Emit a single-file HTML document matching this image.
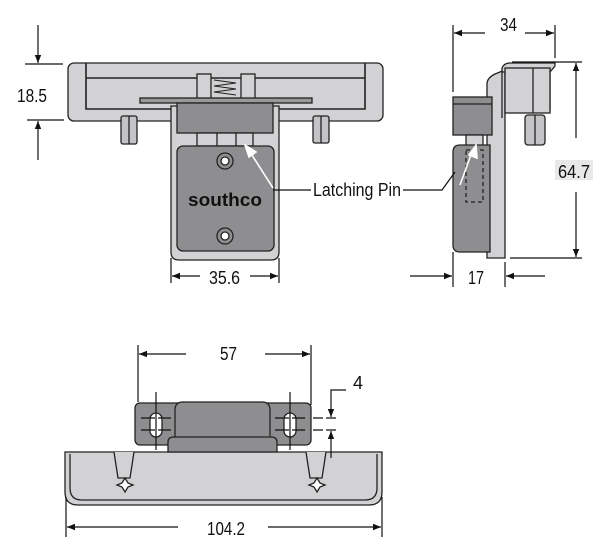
<!DOCTYPE html>
<html><head><meta charset="utf-8"><style>
html,body{margin:0;padding:0;background:#fff;width:600px;height:552px;overflow:hidden}
svg{display:block}
text{font-family:"Liberation Sans",sans-serif;font-size:18px;fill:#111}
</style></head><body>
<svg width="600" height="552" viewBox="0 0 600 552" xmlns="http://www.w3.org/2000/svg">
<defs>
<marker id="a" viewBox="0 0 10 10" refX="10" refY="5" markerWidth="12" markerHeight="8" orient="auto-start-reverse" markerUnits="userSpaceOnUse"><path d="M0,1 L10,5 L0,9 z" fill="#111"/></marker>
</defs>
<g stroke="#222" stroke-width="1.3">
<rect x="68" y="63" width="315" height="58" rx="6" fill="#d2d2d4"/>
<path d="M86 63 V109 H365 V63 M86 78 H365" fill="none" stroke-width="1.6"/>
<rect x="197" y="74" width="14" height="26" fill="#d2d2d4"/>
<rect x="241" y="74" width="14" height="26" fill="#d2d2d4"/>
<path d="M214 80 l22 3 l-22 3 l22 3 l-22 3 l22 3" fill="none" stroke-width="1"/>
<rect x="140" y="98" width="172" height="5" fill="#9a9a9c"/>
<rect x="121" y="116" width="16" height="28" rx="2" fill="#c4c4c6"/>
<line x1="129" y1="116" x2="129" y2="144"/>
<rect x="313" y="116" width="16" height="27" rx="2" fill="#c4c4c6"/>
<line x1="321" y1="116" x2="321" y2="143"/>
<path d="M171 106 V252 q0 8 8 8 H271 q8 0 8-8 V106 Z" fill="#d2d2d4"/>
<rect x="177" y="103" width="96" height="30" fill="#8e8e90"/>
<rect x="197" y="133" width="56" height="13" fill="#d2d2d4"/>
<line x1="217" y1="133" x2="217" y2="146"/><line x1="236" y1="133" x2="236" y2="146"/>
<rect x="177" y="146" width="97" height="105" rx="6" fill="#8e8e90"/>
<circle cx="225" cy="161" r="8" fill="#8e8e90"/><circle cx="225" cy="161" r="4" fill="#fff"/>
<circle cx="225" cy="236" r="8" fill="#8e8e90"/><circle cx="225" cy="236" r="4" fill="#fff"/>
<path d="M487 84 q0-6 8-10 L505 70 V258 H487 Z" fill="#d2d2d4"/>
<path d="M502 118 V68 q2-5 8-5 H555 V66 L550 72 V110 H545 L545 72 H502" fill="#d2d2d4"/>
<rect x="505" y="68" width="45" height="45" fill="#d2d2d4"/>
<line x1="533" y1="68" x2="533" y2="113"/>
<rect x="525" y="115" width="20" height="30" rx="3" fill="#c4c4c6"/>
<line x1="535" y1="115" x2="535" y2="145"/>
<rect x="453" y="97" width="39" height="38" fill="#8e8e90"/>
<line x1="453" y1="104" x2="492" y2="104"/>
<rect x="466" y="135" width="17" height="11" fill="#d2d2d4"/>
<path d="M453 152 q0-7 7-7 H490 V252 H460 q-7 0-7-7 Z" fill="#8e8e90"/>
<rect x="466" y="150" width="17" height="52" fill="none" stroke-dasharray="4,3"/>
<path d="M65 452 H382 V492 q0 13-13 13 H78 q-13 0-13-13 Z" fill="#d2d2d4"/>
<path d="M70 454 V488 q0 12 12 12 H365 q12 0 12-12 V454" fill="none"/>
<path d="M114 452 L118 478 L130 478 L134 452 M306 452 L310 478 L322 478 L326 452" fill="#d2d2d4"/>
<path d="M125 478 l3 5 l5 2 l-5 2 l-3 5 l-3-5 l-5-2 l5-2 z M317 478 l3 5 l5 2 l-5 2 l-3 5 l-3-5 l-5-2 l5-2 z" fill="#fff"/>
<rect x="135" y="403" width="176" height="42" rx="5" fill="#8e8e90"/>
<path d="M175 437 V410 q0-8 8-8 H262 q8 0 8 8 V437" fill="#8e8e90"/>
<path d="M168 452 V442 q0-5 6-5 H271 q6 0 6 5 V452 Z" fill="#8e8e90"/>
<rect x="150" y="413" width="12" height="24" rx="6" fill="#fff"/>
<rect x="284" y="413" width="12" height="24" rx="6" fill="#fff"/>
</g>
<g stroke="#fff" stroke-width="1.6" fill="#fff">
<line x1="273" y1="188" x2="250" y2="152"/><path d="M245 145 L256 152 L249 157 Z"/>
<line x1="460" y1="185" x2="472" y2="152"/><path d="M476 145 L477 158 L469 155 Z"/>
</g>
<g stroke="#111" stroke-width="1.2" fill="none">
<line x1="25" y1="64" x2="63" y2="64"/><line x1="27" y1="120" x2="64" y2="120"/>
<line x1="38" y1="25" x2="38" y2="63" marker-end="url(#a)"/>
<line x1="38" y1="160" x2="38" y2="121" marker-end="url(#a)"/>
<line x1="171" y1="258" x2="171" y2="283"/><line x1="279" y1="258" x2="279" y2="283"/>
<line x1="200" y1="276" x2="172" y2="276" marker-end="url(#a)"/><line x1="250" y1="276" x2="278" y2="276" marker-end="url(#a)"/>
<polyline points="273,190 311,190"/><polyline points="403,190 442,190 455,172"/>
<line x1="453" y1="25" x2="453" y2="92"/><line x1="555" y1="25" x2="555" y2="58"/>
<line x1="485" y1="33" x2="454" y2="33" marker-end="url(#a)"/><line x1="525" y1="33" x2="554" y2="33" marker-end="url(#a)"/>
<line x1="512" y1="62" x2="582" y2="62"/><line x1="510" y1="258" x2="582" y2="258"/>
<line x1="576" y1="138" x2="576" y2="63" marker-end="url(#a)"/><line x1="576" y1="192" x2="576" y2="257" marker-end="url(#a)"/>
<line x1="453" y1="252" x2="453" y2="287"/><line x1="505" y1="262" x2="505" y2="287"/>
<line x1="410" y1="276" x2="452" y2="276" marker-end="url(#a)"/><line x1="545" y1="276" x2="506" y2="276" marker-end="url(#a)"/>
<line x1="138" y1="345" x2="138" y2="402"/><line x1="311" y1="345" x2="311" y2="405"/>
<line x1="186" y1="354" x2="139" y2="354" marker-end="url(#a)"/><line x1="265" y1="354" x2="310" y2="354" marker-end="url(#a)"/>
<line x1="66" y1="497" x2="66" y2="537"/><line x1="382" y1="497" x2="382" y2="537"/>
<line x1="178" y1="527" x2="67" y2="527" marker-end="url(#a)"/><line x1="268" y1="527" x2="381" y2="527" marker-end="url(#a)"/>
<line x1="156" y1="392" x2="156" y2="450"/><line x1="290" y1="392" x2="290" y2="450"/>
<path d="M141 418 H171 M141 430 H171 M275 418 H305 M275 430 H305" stroke-dasharray="14,3"/>
<path d="M313 418 H338 M313 430 H338" stroke-dasharray="10,3"/>
<polyline points="346,390 331,390 331,417" marker-end="url(#a)"/>
<line x1="331" y1="458" x2="331" y2="431" marker-end="url(#a)"/>
</g>
<rect x="555" y="160" width="38" height="20" fill="#e8e8e8"/>
<text x="17" y="102" textLength="30" lengthAdjust="spacingAndGlyphs">18.5</text>
<text x="209" y="284" textLength="31" lengthAdjust="spacingAndGlyphs">35.6</text>
<text x="313" y="196" textLength="88" lengthAdjust="spacingAndGlyphs">Latching Pin</text>
<text x="188" y="206" textLength="74" lengthAdjust="spacingAndGlyphs" style="font-size:18px;font-weight:bold;fill:#111">southco</text>
<text x="500" y="31" textLength="17" lengthAdjust="spacingAndGlyphs">34</text>
<text x="558" y="178" textLength="32" lengthAdjust="spacingAndGlyphs">64.7</text>
<text x="468" y="284" textLength="16" lengthAdjust="spacingAndGlyphs">17</text>
<text x="220" y="360" textLength="17" lengthAdjust="spacingAndGlyphs">57</text>
<text x="353" y="389">4</text>
<text x="207" y="535" textLength="38" lengthAdjust="spacingAndGlyphs">104.2</text>
</svg>
</body></html>
